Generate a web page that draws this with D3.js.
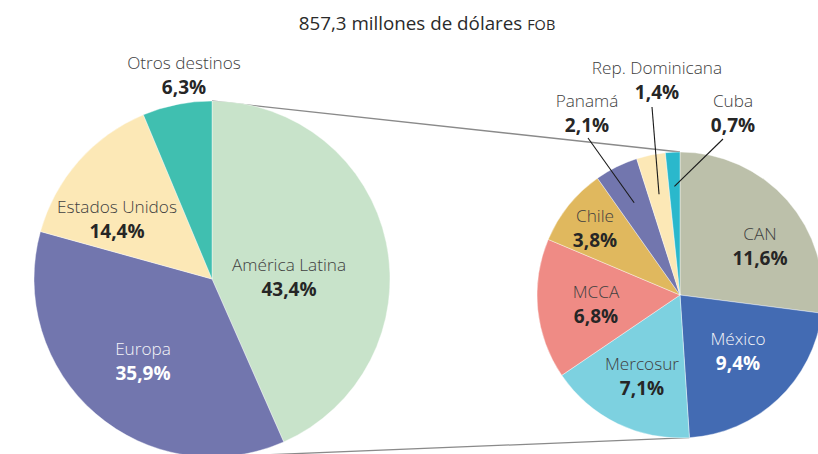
<!DOCTYPE html>
<html>
<head>
<meta charset="utf-8">
<script src="https://cdn.jsdelivr.net/npm/d3@7"></script>
<style>
  html, body { margin: 0; padding: 0; background: #fff; }
  svg { display: block; font-family: "Open Sans", "Noto Sans", sans-serif; }
</style>
</head>
<body>
<svg id="chart" width="818" height="454"></svg>
<script>
// Destinations of exports (share of total, %)
const mainCategories = ["América Latina", "Europa", "Estados Unidos", "Otros destinos"];
const mainValues = [43.4, 35.9, 14.4, 6.3];
const mainColors = ["#c8e3ca", "#7276ae", "#fce8b6", "#40bfb0"];

// Breakdown of América Latina
const latamCategories = ["CAN", "México", "Mercosur", "MCCA", "Chile", "Panamá", "Rep. Dominicana", "Cuba"];
const latamValues = [11.6, 9.4, 7.1, 6.8, 3.8, 2.1, 1.4, 0.7];
const latamColors = ["#bcc0aa", "#436bb3", "#7dd1e0", "#ef8b85", "#e0b85e", "#7276ae", "#fce8b6", "#2ab8cc"];

const titleMain = "857,3 millones de dólares ";
const titleUnit = "FOB";

const fmt = v => d3.format(".1f")(v).replace(".", ",") + "%";

const svg = d3.select("#chart");

// Layout
const L = { cx: 212, cy: 279, r: 178 };
const R = { cx: 680, cy: 295, r: 143 };

// Label placement (inside-slice labels and outside callouts)
const mainLabelPos = [
  { x: 289, y: 271, fill: "#3b3b3b" },
  { x: 143, y: 355, fill: "#ffffff" },
  { x: 117, y: 213, fill: "#3b3b3b" },
  { x: 184, y: 69, fill: "#3b3b3b" }
];
const latamLabelPos = [
  { x: 760, y: 240, fill: "#3b3b3b" },
  { x: 738, y: 345, fill: "#ffffff" },
  { x: 642, y: 370, fill: "#3b3b3b" },
  { x: 596, y: 298, fill: "#3b3b3b" },
  { x: 595, y: 222, fill: "#3b3b3b" },
  { x: 587, y: 107, fill: "#3b3b3b", leader: [588, 138, 0.72] },
  { x: 657, y: 74, fill: "#3b3b3b", leader: [652, 107, 0.72] },
  { x: 733, y: 107, fill: "#3b3b3b", leader: [723, 139, 0.76] }
];

const pie = d3.pie().sort(null).value(d => d);
const mainArcs = pie(mainValues);
const latamArcs = pie(latamValues);

const pointOn = (c, angle, rr) => [c.cx + rr * Math.sin(angle), c.cy - rr * Math.cos(angle)];

// Connector lines linking the América Latina slice to its breakdown
const latamEnd = latamArcs[1].endAngle;
const connectors = [
  [pointOn(L, 0, L.r), pointOn(R, 0, R.r)],
  [pointOn(L, Math.PI, L.r), pointOn(R, latamEnd, R.r)]
];
svg.append("g").selectAll("line").data(connectors).join("line")
  .attr("x1", d => d[0][0]).attr("y1", d => d[0][1])
  .attr("x2", d => d[1][0]).attr("y2", d => d[1][1])
  .attr("stroke", "#8a8a8a").attr("stroke-width", 1.3);

// Main pie
const arcL = d3.arc().innerRadius(0).outerRadius(L.r);
svg.append("g").attr("transform", `translate(${L.cx},${L.cy})`)
  .selectAll("path").data(mainArcs).join("path")
  .attr("d", arcL)
  .attr("fill", (d, i) => mainColors[i])
  .attr("stroke", "#ffffff").attr("stroke-width", 0.4);

// Breakdown pie
const arcR = d3.arc().innerRadius(0).outerRadius(R.r);
svg.append("g").attr("transform", `translate(${R.cx},${R.cy})`)
  .selectAll("path").data(latamArcs).join("path")
  .attr("d", arcR)
  .attr("fill", (d, i) => latamColors[i])
  .attr("stroke", "#ffffff").attr("stroke-width", 0.4);

// Leader lines for the small slices
latamArcs.forEach((a, i) => {
  const p = latamLabelPos[i];
  if (!p.leader) return;
  const mid = (a.startAngle + a.endAngle) / 2;
  const inner = pointOn(R, mid, R.r * p.leader[2]);
  svg.append("line")
    .attr("x1", p.leader[0]).attr("y1", p.leader[1])
    .attr("x2", inner[0]).attr("y2", inner[1])
    .attr("stroke", "#1a1a1a").attr("stroke-width", 1.1);
});

// Labels
function drawLabels(cats, vals, pos) {
  const g = svg.append("g").attr("text-anchor", "middle");
  cats.forEach((c, i) => {
    const p = pos[i];
    g.append("text").attr("x", p.x).attr("y", p.y)
      .attr("font-size", 17.2).attr("font-weight", 300)
      .attr("fill", p.fill === "#ffffff" ? "#f4f4f8" : "#404040")
      .text(c);
    g.append("text").attr("x", p.x).attr("y", p.y + 25)
      .attr("font-size", 19).attr("font-weight", 700)
      .attr("fill", p.fill === "#ffffff" ? "#ffffff" : "#262626")
      .text(fmt(vals[i]));
  });
}
drawLabels(mainCategories, mainValues, mainLabelPos);
drawLabels(latamCategories, latamValues, latamLabelPos);

// Title
const title = svg.append("text").attr("x", 427).attr("y", 30)
  .attr("text-anchor", "middle").attr("fill", "#2a2a2a").attr("font-size", 18.8);
title.append("tspan").text(titleMain);
title.append("tspan").attr("font-size", 14.5).text(titleUnit);
</script>
</body>
</html>
